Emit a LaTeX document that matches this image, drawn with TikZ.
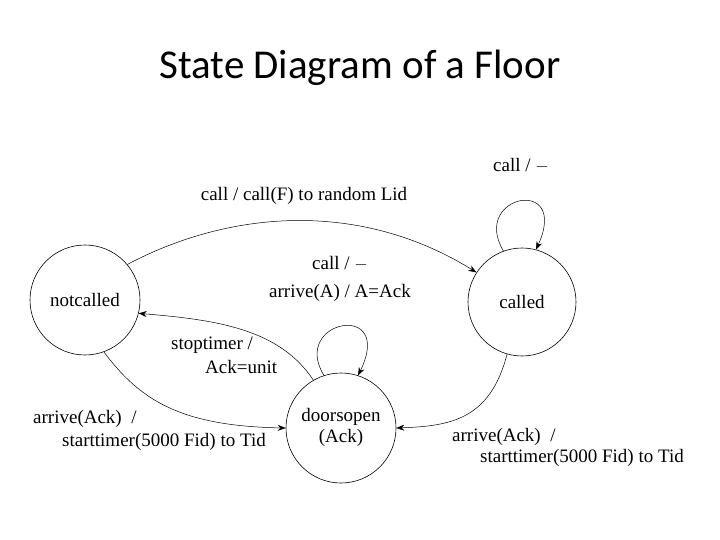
\documentclass[tikz,border=0pt]{standalone}
\usepackage{fontspec}
\setmainfont{Liberation Serif}
\newfontfamily\titlefont{Carlito}
\usetikzlibrary{arrows.meta}
\begin{document}
\begin{tikzpicture}[x=1pt,y=-1pt,
  st/.style={circle,draw,line width=0.6pt,minimum size=110pt,inner sep=0pt,font=\fontsize{19}{21}\selectfont},
  tr/.style={draw,line width=0.5pt,-{Stealth[length=8pt,width=6pt]}},
  lbl/.style={font=\fontsize{19}{21}\selectfont,inner sep=0pt}]
\useasboundingbox (0,0) rectangle (720,540);
\node[font=\titlefont\fontsize{41}{46}\selectfont] (title) at (360,68) {State Diagram of a Floor};
\node[st] (nc) at (85,300) {notcalled};
\node[st,minimum size=108pt] (c) at (522,302) {called};
\node[st] (d) at (341,428) {\begin{tabular}{@{}c@{}}doorsopen\\(Ack)\end{tabular}};
% notcalled -> called
\draw[tr] (nc.40) .. controls (230,210) and (360,200) .. (c.147);
\node[lbl] (l1) at (304,196) {call / call(F) to random Lid};
% called self loop
\draw[tr] (c.110) .. controls (470,195) and (570,175) .. (c.75);
\node[lbl] (l2) at (521,166) {call / $-$};
% doorsopen self loop
\draw[tr] (d.108) .. controls (290,320) and (395,300) .. (d.72);
\node[lbl] (l3) at (340,264) {call / $-$};
\node[lbl] (l4) at (340,293) {arrive(A) / A=Ack};
% doorsopen -> notcalled
\draw[tr] (d.120) .. controls (280,330) and (220,320) .. (nc.-14);
\node[lbl,anchor=west] (l5) at (171,345) {stoptimer /};
\node[lbl,anchor=west] (l6) at (205,367) {Ack=unit};
% notcalled -> doorsopen
\draw[tr] (nc.-70) .. controls (140,400) and (180,426) .. (d.180);
\node[lbl,anchor=west] (l7) at (33,419) {arrive(Ack)\ \ /};
\node[lbl,anchor=west] (l8) at (62,442) {starttimer(5000 Fid) to Tid};
% called -> doorsopen
\draw[tr] (c.-106) .. controls (490,420) and (450,426) .. (d.0);
\node[lbl,anchor=west] (l9) at (452,437) {arrive(Ack)\ \ /};
\node[lbl,anchor=west] (l10) at (480,458) {starttimer(5000 Fid) to Tid};
\end{tikzpicture}
\end{document}
